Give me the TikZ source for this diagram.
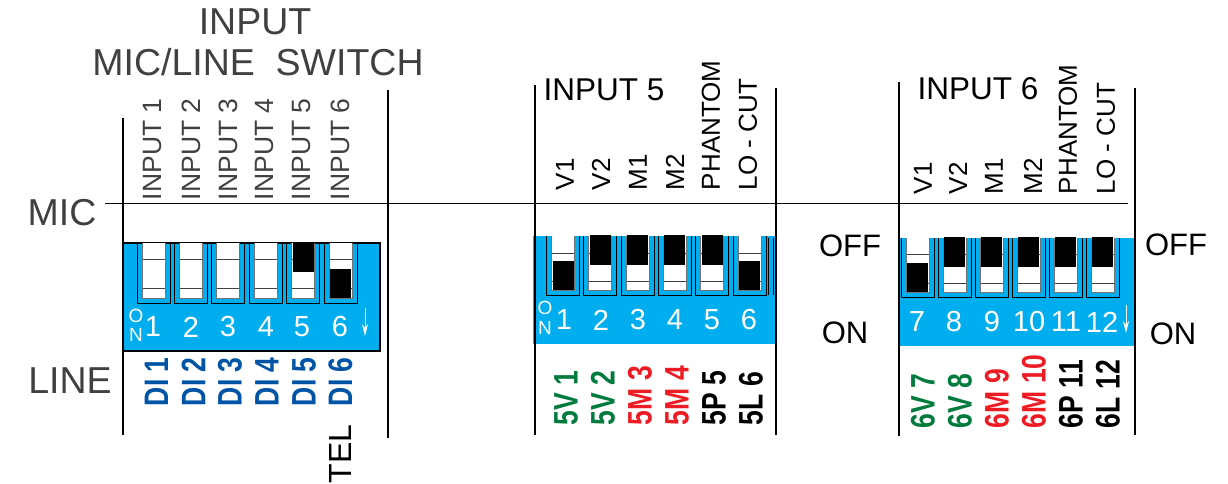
\documentclass[tikz,border=0pt]{standalone}
\usepackage{fontspec}
\setmainfont{Liberation Sans}
\definecolor{dipblue}{HTML}{00AEEF}
\definecolor{diblue}{HTML}{0054A6}
\definecolor{digreen}{HTML}{007A3D}
\definecolor{dired}{HTML}{ED1C24}
\definecolor{thintxt}{HTML}{404040}
\newcommand{\fsz}[1]{\fontsize{#1}{#1}\selectfont}
% inner-left, top, line1, line2, bottom, state (0 = down, 1 = up, 2 = empty)
\newcommand{\dipslot}[6]{%
  \fill[white] (#1,#2) rectangle (#1+23,#5);
  \draw[slotline] (#1,#3) -- (#1+23,#3);
  \draw[slotline] (#1,#4) -- (#1+23,#4);
  \draw[black!55,line width=.7pt] (#1,#2) -- (#1,#5) -- (#1+23,#5) -- (#1+23,#2);
  \ifnum#6=1
    \fill[black] (#1+1,#2-1) rectangle (#1+22,#2+29);
  \fi
  \ifnum#6=0
    \fill[black] (#1+1,#5-29) rectangle (#1+22,#5);
  \fi
  \draw[black,line width=1pt] (#1-5,#2) -- (#1-5,#5+5) -- (#1+28,#5+5) -- (#1+28,#2);
}
\tikzset{
  x=1pt,y=-1pt,
  every node/.style={inner sep=0pt,outer sep=0pt},
  slotline/.style={black!75,line width=.7pt},
  rule/.style={black,line width=1.6pt},
  vthin/.style={rotate=90,anchor=west,text=thintxt,font=\fsz{26.5}},
  vblack/.style={rotate=90,anchor=west,text=black,font=\fsz{26}},
  vcode/.style={rotate=90,anchor=west,font=\bfseries\fsz{34},xscale=.78},
  head/.style={text=thintxt,font=\fsz{37.5}},
  side/.style={text=black,font=\fsz{31}},
  num/.style={text=white,font=\fsz{29}},
  onmark/.style={text=white,font=\fsz{19}},
  downarrow/.style={white,line width=1pt,-{Stealth[length=12pt,width=6pt]}}
}
\usetikzlibrary{arrows.meta}
\begin{document}
\begin{tikzpicture}
\path[use as bounding box] (0,0) rectangle (1228,483);
% --- blue bodies
\fill[dipblue] (122,243) rectangle (380,351);
\draw[black,line width=2pt] (122,243) -- (380,243) -- (380,351) -- (122,351);
\fill[dipblue] (533,236) rectangle (776,344);
\fill[dipblue] (898,238) rectangle (1135,346);
% --- slots, group 1
\foreach \i/\s in {0/2,1/2,2/2,3/2,4/1,5/0}
  \dipslot{142+37.4*\i}{243}{259}{288}{298}{\s}
% --- slots, group 2
\foreach \i/\s in {0/0,1/1,2/1,3/1,4/1,5/0}
  \dipslot{551.5+37.3*\i}{236}{253}{281}{290}{\s}
\draw[black,line width=.8pt] (768,238) -- (768,295) (773,238) -- (773,295);
% --- slots, group 3
\foreach \i/\s in {0/0,1/1,2/1,3/1,4/1,5/1}
  \dipslot{906+37*\i}{238}{254}{283}{292}{\s}
% --- frame rules
\draw[rule] (123,118) -- (123,435);
\draw[rule] (388,90) -- (388,438);
\draw[rule] (535,85) -- (535,435);
\draw[rule] (776,88) -- (776,435);
\draw[rule] (899,82) -- (899,436);
\draw[rule] (1135,88) -- (1135,435);
\draw[black,line width=.8pt] (105,203) -- (1128,203);
% --- headings
\node[head] (t1) at (255,22) {INPUT};
\node[head] (t2) at (258,62) {MIC/LINE\ \ SWITCH};
\node[head] (mic) at (62,213) {MIC};
\node[head] (line) at (70,381) {LINE};
\node[text=black,font=\fsz{31.5}] (in5) at (604,90) {INPUT 5};
\node[text=black,font=\fsz{31.5}] (in6) at (978,89) {INPUT 6};
\node[side] (off1) at (850,246) {OFF};
\node[side] (on1) at (845,333) {ON};
\node[side] (off2) at (1176,245) {OFF};
\node[side] (on2) at (1173,334) {ON};
% --- vertical labels, group 1
\foreach \i/\x in {1/153,2/191,3/228,4/265,5/302,6/340}
  \node[vthin] (inp\i) at (\x,200) {INPUT \i};
\foreach \i/\x in {1/156.5,2/193.5,3/230,4/267,5/304,6/340.5}
  \node[vcode,text=diblue] (di\i) at (\x,406) {DI \i};
\node[rotate=90,anchor=west,text=black,font=\fsz{32}] (tel) at (340.5,483.5) {TEL};
% --- vertical labels, group 2
\foreach \n/\t/\x in {a/V1/565,b/V2/601,c/M1/638,d/M2/675,e/PHANTOM/711,f/LO - CUT/748}
  \node[vblack] (g\n) at (\x,190) {\t};
\foreach \n/\t/\c/\x in {a/5V 1/digreen/566,b/5V 2/digreen/603,c/5M 3/dired/640,d/5M 4/dired/677,e/5P 5/black/714,f/5L 6/black/751}
  \node[vcode,text=\c] (h\n) at (\x,425) {\t};
% --- vertical labels, group 3
\foreach \n/\t/\x in {a/V1/923,b/V2/958,c/M1/994,d/M2/1033,e/PHANTOM/1068,f/LO - CUT/1106}
  \node[vblack] (k\n) at (\x,194) {\t};
\foreach \n/\t/\c/\x in {a/6V 7/digreen/923,b/6V 8/digreen/960,c/6M 9/dired/997,d/6M 10/dired/1034,e/6P 11/black/1071,f/6L 12/black/1108}
  \node[vcode,text=\c] (m\n) at (\x,428) {\t};
% --- numbers on the bodies
\foreach \i/\x in {1/153,2/191,3/228,4/266,5/302,6/340}
  \node[num] (na\i) at (\x,327) {\i};
\foreach \i/\x in {1/564,2/601,3/638,4/675,5/712,6/749}
  \node[num] (nb\i) at (\x,320) {\i};
\foreach \i/\x in {7/917,8/954,9/992,10/1029,11/1066,12/1102}
  \node[num] (nc\i) at (\x,322) {\i};
\node[onmark] (oa) at (136,316) {O};
\node[onmark] (na) at (136,335) {N};
\node[onmark] (ob) at (545,308) {O};
\node[onmark] (nb) at (545,328) {N};
\coordinate (ar1) at (365,308);
\coordinate (ar2) at (365,336);
\coordinate (ar3) at (1126,305);
\coordinate (ar4) at (1126,333);
\draw[downarrow] (ar1) -- (ar2);
\draw[downarrow] (ar3) -- (ar4);
\end{tikzpicture}
\end{document}
